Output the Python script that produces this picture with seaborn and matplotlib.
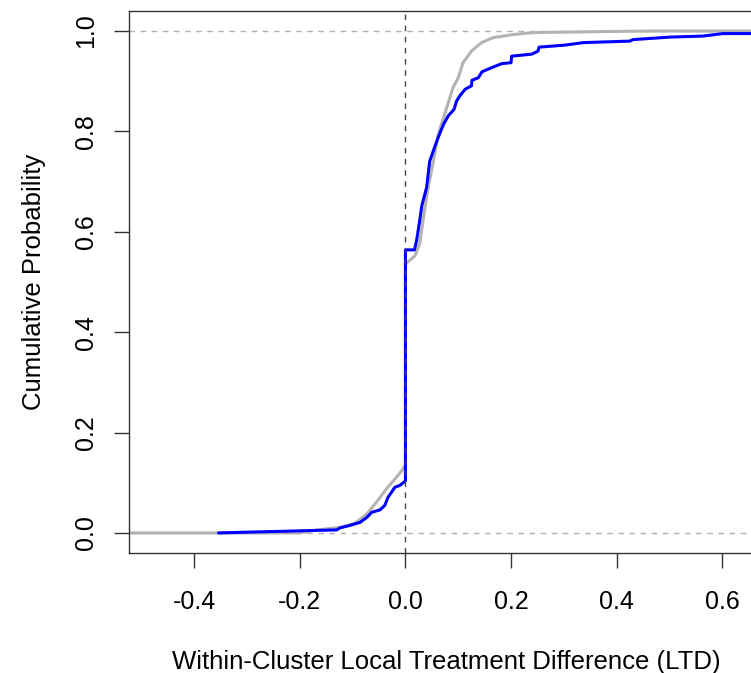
import numpy as np
import pandas as pd
import matplotlib
matplotlib.use("Agg")
import matplotlib.pyplot as plt
import seaborn as sns

# puntos (LTD, probabilidad acumulada)
gris_x = [-0.53, -0.20, -0.168, -0.124, -0.096, -0.073, -0.055, -0.036, -0.017, -0.007,
          -0.003, 0.0, 0.0, 0.018, 0.027, 0.034, 0.043, 0.053, 0.062, 0.078, 0.090,
          0.100, 0.109, 0.125, 0.144, 0.166, 0.204, 0.242, 0.374, 0.463, 0.70]
gris_y = [0.0, 0.0, 0.006, 0.011, 0.019, 0.038, 0.061, 0.088, 0.111, 0.124,
          0.131, 0.131, 0.536, 0.552, 0.576, 0.628, 0.688, 0.741, 0.794, 0.847, 0.887,
          0.907, 0.937, 0.960, 0.977, 0.987, 0.993, 0.997, 0.999, 1.0, 1.0]

azul_x = [-0.354, -0.168, -0.130, -0.124, -0.105, -0.086, -0.073, -0.064, -0.048, -0.039,
          -0.033, -0.020, -0.010, -0.003, 0.0, 0.0, 0.017, 0.021, 0.027, 0.031, 0.040,
          0.046, 0.055, 0.062, 0.072, 0.081, 0.092, 0.097, 0.103, 0.113, 0.125, 0.126,
          0.138, 0.145, 0.163, 0.182, 0.200, 0.201, 0.239, 0.251, 0.253, 0.302, 0.337,
          0.425, 0.431, 0.501, 0.563, 0.601, 0.70]
azul_y = [0.0, 0.005, 0.006, 0.010, 0.015, 0.021, 0.031, 0.041, 0.046, 0.055,
          0.071, 0.091, 0.095, 0.101, 0.104, 0.564, 0.564, 0.582, 0.622, 0.652, 0.688,
          0.741, 0.768, 0.788, 0.814, 0.831, 0.844, 0.861, 0.871, 0.884, 0.891, 0.902,
          0.907, 0.919, 0.927, 0.935, 0.937, 0.950, 0.954, 0.960, 0.968, 0.972, 0.977,
          0.980, 0.983, 0.988, 0.990, 0.995, 0.995]

xticks = [-0.4, -0.2, 0.0, 0.2, 0.4, 0.6]
yticks = [0.0, 0.2, 0.4, 0.6, 0.8, 1.0]

sns.set_style("ticks")
plt.rcParams['font.family'] = ['Liberation Sans', 'DejaVu Sans']
plt.rcParams['text.color'] = 'black'
plt.rcParams['axes.labelcolor'] = 'black'

fig = plt.figure(figsize=(7.51, 6.73), dpi=100)
ax = fig.add_axes([129/751, 120/673, (763-129)/751, (553-11)/673])

df_g = pd.DataFrame({"x": gris_x, "y": gris_y})
df_a = pd.DataFrame({"x": azul_x, "y": azul_y})

ax.axhline(0, color="#b0b0b0", lw=1, ls=(0, (4, 4)), zorder=1)
ax.axhline(1, color="#b0b0b0", lw=1, ls=(0, (4, 4)), zorder=1)
sns.lineplot(data=df_g, x="x", y="y", sort=False, estimator=None, color="#b3b3b3", lw=2.2, ax=ax)
sns.lineplot(data=df_a, x="x", y="y", sort=False, estimator=None, color="#0000ff", lw=2.2, ax=ax)
ax.axvline(0, color="#444444", lw=1, ls=(0, (4, 4)), zorder=3)

ax.set_xlim(-0.5234, 0.677)
ax.set_ylim(-0.04, 1.04)
ax.set_xticks(xticks)
ax.set_yticks(yticks)
ax.set_xticklabels([f"{v:.1f}" for v in xticks])
ax.set_yticklabels([f"{v:.1f}" for v in yticks], rotation=90, va="center")
ax.tick_params(axis="both", labelsize=18, length=10.5, width=1, color="#333333",
               labelcolor="black")
ax.tick_params(axis="x", pad=16)
ax.tick_params(axis="y", pad=12)
for s in ax.spines.values():
    s.set_color("#333333")
    s.set_linewidth(1)
ax.spines["right"].set_visible(False)

ax.set_xlabel("Within-Cluster Local Treatment Difference (LTD)", fontsize=18.5, labelpad=26)
ax.set_ylabel("Cumulative Probability", fontsize=18.5, labelpad=20)

fig.savefig("out.png", dpi=100)
